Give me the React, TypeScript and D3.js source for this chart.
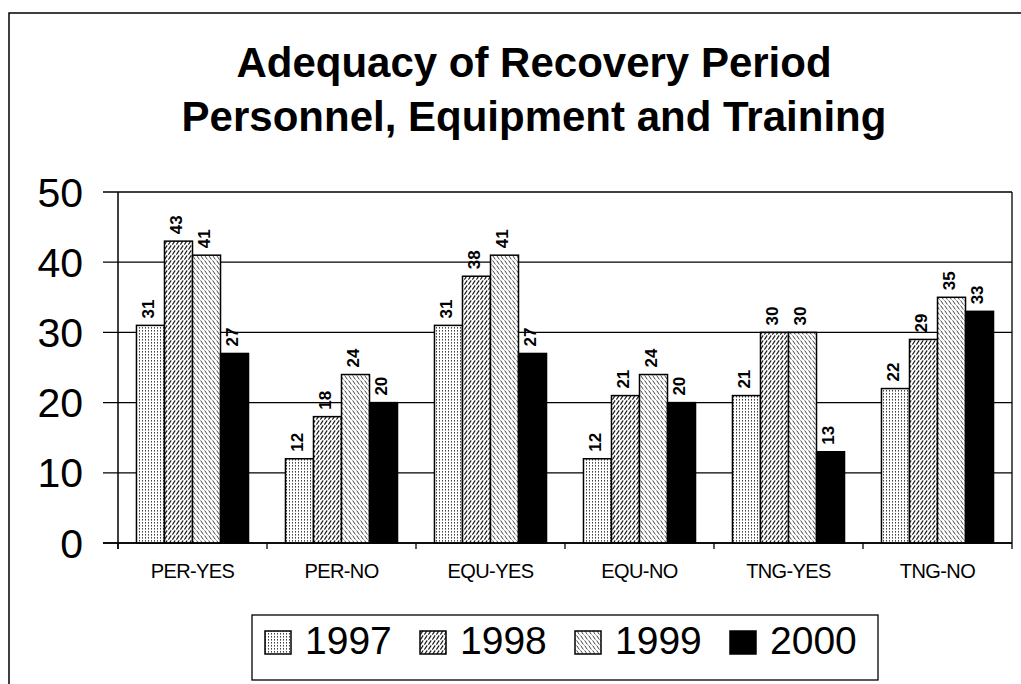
import React from "react";
import * as d3 from "d3";

const categories = ["PER-YES", "PER-NO", "EQU-YES", "EQU-NO", "TNG-YES", "TNG-NO"];
const years = ["1997", "1998", "1999", "2000"];
const values1997 = [31, 12, 31, 12, 21, 22];
const values1998 = [43, 18, 38, 21, 30, 29];
const values1999 = [41, 24, 41, 24, 30, 35];
const values2000 = [27, 20, 27, 20, 13, 33];
const yTicks = [0, 10, 20, 30, 40, 50];
const titleLines = ["Adequacy of Recovery Period", "Personnel, Equipment and Training"];

const seriesValues = [values1997, values1998, values1999, values2000];
const fills = ["url(#p1997)", "url(#p1998)", "url(#p1999)", "#000"];

const FONT = "'Liberation Sans', Arial, Helvetica, sans-serif";

export default function App() {
  const W = 1021, H = 684;
  const left = 118, right = 1012, top = 192, bottom = 543;
  const x0 = d3.scaleBand<string>().domain(categories).range([left, right]).paddingInner(0).paddingOuter(0);
  const cw = x0.bandwidth();
  const x1 = d3.scaleBand<string>().domain(years).range([cw * 0.124, cw * 0.876]).paddingInner(0).paddingOuter(0);
  const y = d3.scaleLinear().domain([0, 50]).range([bottom, top]);

  const bars: React.ReactNode[] = [];
  const labels: React.ReactNode[] = [];
  categories.forEach((c, ci) => {
    years.forEach((yr, si) => {
      const v = seriesValues[si][ci];
      const bx = (x0(c) as number) + (x1(yr) as number);
      const bw = x1.bandwidth();
      const by = y(v);
      bars.push(
        <rect key={`b-${c}-${yr}`} x={bx} y={by} width={bw} height={bottom - by}
          fill={fills[si]} stroke="#000" strokeWidth={1.5} />
      );
      const lx = bx + bw / 2 - 2;
      const ly = by - 7;
      labels.push(
        <text key={`l-${c}-${yr}`} transform={`translate(${lx},${ly}) rotate(-90)`}
          fontFamily={FONT} fontWeight="bold" fontSize={17} textAnchor="start"
          dominantBaseline="central" fill="#000">{v}</text>
      );
    });
  });

  const legendX = [265, 420, 575, 730];

  return (
    <svg width={W} height={H} style={{ position: "absolute", left: 0, top: 0, background: "#fff" }}>
      <defs>
        <pattern id="p1997" width={3} height={3} patternUnits="userSpaceOnUse">
          <rect width={3} height={3} fill="#fff" />
          <rect x={1} y={0} width={1} height={1.6} fill="#444" />
        </pattern>
        <pattern id="p1998" width={4} height={5} patternUnits="userSpaceOnUse">
          <rect width={4} height={5} fill="#fff" />
          <path d="M0.4,4.6 L3.2,0.4" stroke="#111" strokeWidth={1.1} />
        </pattern>
        <pattern id="p1999" width={4} height={5} patternUnits="userSpaceOnUse">
          <rect width={4} height={5} fill="#fff" />
          <path d="M0.6,0.4 L3.4,4.6" stroke="#333" strokeWidth={0.9} />
        </pattern>
      </defs>
      <rect width={W} height={H} fill="#fff" />
      {/* outer frame */}
      <path d={`M9,${H} L9,13 L${W},13`} fill="none" stroke="#000" strokeWidth={1.5} />

      {/* title */}
      {titleLines.map((t, i) => (
        <text key={t} x={534} y={77 + i * 54} textAnchor="middle" fontFamily={FONT}
          fontWeight="bold" fontSize={42} fill="#000">{t}</text>
      ))}

      {/* gridlines and y ticks */}
      {yTicks.map((t) => (
        <g key={`g-${t}`}>
          <line x1={103} x2={right} y1={y(t)} y2={y(t)} stroke="#000" strokeWidth={1.3} />
          <text x={83} y={y(t) + 14.5} textAnchor="end" fontFamily={FONT} fontSize={41} fill="#000">{t}</text>
        </g>
      ))}
      {/* y axis and right border */}
      <line x1={left} x2={left} y1={top} y2={bottom + 6} stroke="#000" strokeWidth={1.5} />
      <line x1={right} x2={right} y1={top} y2={bottom + 6} stroke="#000" strokeWidth={1.3} />
      {/* category ticks */}
      {categories.map((c) => (
        <line key={`t-${c}`} x1={x0(c) as number} x2={x0(c) as number} y1={bottom} y2={bottom + 6}
          stroke="#000" strokeWidth={1.3} />
      ))}

      {bars}
      <line x1={103} x2={right} y1={bottom} y2={bottom} stroke="#000" strokeWidth={1.5} />
      {labels}

      {/* category labels */}
      {categories.map((c) => (
        <text key={`c-${c}`} x={(x0(c) as number) + cw / 2} y={578} textAnchor="middle"
          fontFamily={FONT} fontSize={20} letterSpacing={-0.6} fill="#000">{c}</text>
      ))}

      {/* legend */}
      <rect x={252} y={615} width={626} height={65} fill="#fff" stroke="#000" strokeWidth={1.3} />
      {years.map((yr, i) => (
        <g key={`lg-${yr}`}>
          <rect x={legendX[i]} y={631} width={26} height={23} fill={fills[i]} stroke="#000" strokeWidth={1.5} />
          <text x={legendX[i] + 40} y={654} fontFamily={FONT} fontSize={39} fill="#000">{yr}</text>
        </g>
      ))}
    </svg>
  );
}
